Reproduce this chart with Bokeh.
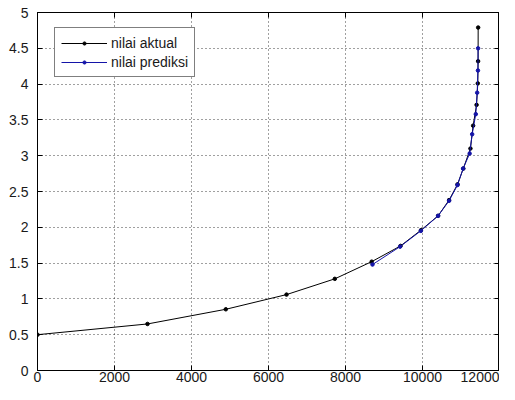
from bokeh.plotting import figure
from bokeh.models import (Range1d, FixedTicker, Legend, LegendItem, LinearAxis,
                          CustomJSTickFormatter)
from bokeh.embed import file_html
from bokeh.resources import INLINE

# data
aktual_x = [0, 2857, 4891, 6468, 7722, 8680, 9430, 9960, 10405, 10690, 10910,
            11060, 11245, 11315, 11405, 11436, 11444, 11446]
aktual_y = [0.50, 0.65, 0.855, 1.06, 1.28, 1.52, 1.74, 1.96, 2.16, 2.38, 2.60,
            2.82, 3.10, 3.42, 3.71, 4.01, 4.32, 4.79]

prediksi_x = [8701, 9418, 9956, 10405, 10691, 10909, 11055, 11225, 11290,
              11384, 11420, 11440, 11444]
prediksi_y = [1.48, 1.73, 1.95, 2.16, 2.37, 2.59, 2.82, 3.03, 3.30, 3.58,
              3.88, 4.19, 4.50]

x_ticks = [0, 2000, 4000, 6000, 8000, 10000, 12000]
y_ticks = [0, 0.5, 1, 1.5, 2, 2.5, 3, 3.5, 4, 4.5, 5]
y_tick_labels = ["0", "0.5", "1", "1.5", "2", "2.5", "3", "3.5", "4", "4.5", "5"]
x_tick_labels = ["0", "2000", "4000", "6000", "8000", "10000", "12000"]

FONT = "Liberation Sans"
FS = "14px"

p = figure(width=499, height=384, output_backend="svg", toolbar_location=None,
           x_range=Range1d(0, 12000), y_range=Range1d(0, 5),
           min_border_left=37, min_border_right=0, min_border_top=12,
           min_border_bottom=0, background_fill_color="white",
           border_fill_color="white", outline_line_color="black",
           outline_line_width=1)

for ax, ticks, labels in ((p.xaxis[0], x_ticks, x_tick_labels),
                          (p.yaxis[0], y_ticks, y_tick_labels)):
    ax.ticker = FixedTicker(ticks=ticks)
    ax.major_label_overrides = {t: l for t, l in zip(ticks, labels)}
    ax.major_tick_in = 5
    ax.major_tick_out = 0
    ax.minor_tick_in = 0
    ax.minor_tick_out = 0
    ax.axis_line_color = "black"
    ax.major_tick_line_color = "black"
    ax.major_label_text_font = FONT
    ax.major_label_text_font_size = FS
    ax.major_label_text_color = "#1a1a1a"
p.xaxis[0].major_label_standoff = 1
p.yaxis[0].major_label_standoff = 9

# box ticks on top and right (no labels)
blank = CustomJSTickFormatter(code="return ''")
top = LinearAxis(ticker=FixedTicker(ticks=x_ticks), formatter=blank,
                 major_label_text_font_size="0px",
                 major_tick_in=5, major_tick_out=0, minor_tick_in=0, minor_tick_out=0,
                 major_label_standoff=0, axis_line_color="black")
right = LinearAxis(ticker=FixedTicker(ticks=y_ticks), formatter=blank,
                   major_label_text_font_size="0px",
                   major_tick_in=5, major_tick_out=0, minor_tick_in=0, minor_tick_out=0,
                   major_label_standoff=0, axis_line_color="black")
p.add_layout(top, "above")
p.add_layout(right, "right")

p.xgrid.ticker = FixedTicker(ticks=x_ticks)
p.ygrid.ticker = FixedTicker(ticks=y_ticks)
for g in (p.xgrid[0], p.ygrid[0]):
    g.grid_line_color = "black"
    g.grid_line_dash = "1 3"
    g.grid_line_alpha = 0.75
    g.grid_line_width = 1

black = "#000000"
blue = "#1414a8"

l1 = p.line(aktual_x, aktual_y, line_color=black, line_width=1)
s1 = p.scatter(aktual_x, aktual_y, marker="circle", size=3.5, fill_color=black,
               line_color=black)
l2 = p.line(prediksi_x, prediksi_y, line_color=blue, line_width=1)
s2 = p.scatter(prediksi_x, prediksi_y, marker="circle", size=3.5, fill_color=blue,
               line_color=blue)

legend = Legend(items=[LegendItem(label="nilai aktual", renderers=[l1, s1]),
                       LegendItem(label="nilai prediksi", renderers=[l2, s2])],
                location=(17, 293), padding=6, spacing=2, margin=0,
                glyph_height=8, glyph_width=46, label_height=17,
                label_standoff=4, label_text_font=FONT,
                label_text_font_size=FS, label_text_color="#1a1a1a",
                border_line_color="black", border_line_width=1,
                background_fill_color="white", background_fill_alpha=1)
p.add_layout(legend)

open("out.html", "w").write(file_html(p, INLINE))
